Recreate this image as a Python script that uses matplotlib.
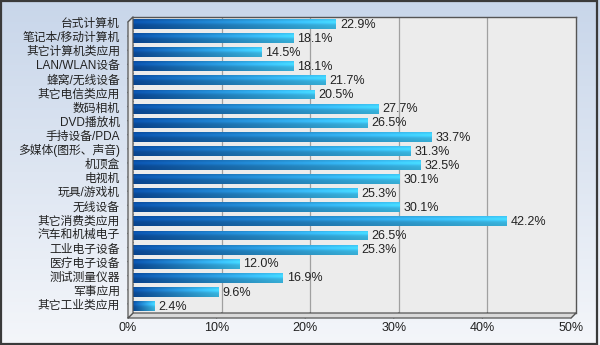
import numpy as np
import matplotlib.pyplot as plt
import matplotlib.transforms as mtransforms
from matplotlib.patches import Rectangle, Polygon
from matplotlib.colors import to_rgb

plt.rcParams['font.family'] = ['Liberation Sans', 'Noto Sans CJK SC', 'DejaVu Sans']

categories = ['台式计算机', '笔记本/移动计算机', '其它计算机类应用', 'LAN/WLAN设备',
              '蜂窝/无线设备', '其它电信类应用', '数码相机', 'DVD播放机',
              '手持设备/PDA', '多媒体(图形、声音)', '机顶盒', '电视机',
              '玩具/游戏机', '无线设备', '其它消费类应用', '汽车和机械电子',
              '工业电子设备', '医疗电子设备', '测试测量仪器', '军事应用',
              '其它工业类应用']
values = [22.9, 18.1, 14.5, 18.1, 21.7, 20.5, 27.7, 26.5, 33.7, 31.3, 32.5,
          30.1, 25.3, 30.1, 42.2, 26.5, 25.3, 12.0, 16.9, 9.6, 2.4]
xticks = [0, 10, 20, 30, 40, 50]

W, H = 600, 345
fig = plt.figure(figsize=(W / 100, H / 100), dpi=100)

# background: light blue at the top fading to near white
bg = fig.add_axes([0, 0, 1, 1], zorder=-10)
top = np.array(to_rgb('#c8d6ea'))
bot = np.array(to_rgb('#f4f6fa'))
t = np.linspace(0, 1, 256)[:, None]
grad = top[None, None, :] * (1 - t[..., None]) + bot[None, None, :] * t[..., None]
bg.imshow(np.repeat(grad, 2, axis=1), aspect='auto', extent=(0, 1, 0, 1))
bg.set_xlim(0, 1)
bg.set_ylim(0, 1)
bg.axis('off')
bg.add_patch(Rectangle((0.002, 0.003), 0.993, 0.994, transform=bg.transAxes,
                       fill=False, ec='#3a3a3a', lw=1.6))

x0, x1 = 133, 576
y_top, y_bot = 17, 313
ax = fig.add_axes([x0 / W, 1 - y_bot / H, (x1 - x0) / W, (y_bot - y_top) / H])
ax.set_facecolor('#ececec')
n = len(categories)
ypos = np.arange(n)
ax.set_xlim(0, 50)
ax.set_ylim(n - 0.5, -0.5)
for s in ['left', 'bottom']:
    ax.spines[s].set_visible(False)
for s in ['top', 'right']:
    ax.spines[s].set_color('#555555')
    ax.spines[s].set_linewidth(1.0)
ax.set_xticks([])
ax.set_yticks([])

for xv in xticks[1:-1]:
    ax.axvline(xv, color='#a0a0a0', lw=0.9, zorder=1)

# offset used for the front edges of the pseudo-3D box
dx, dy = -5, -5
base = ax.transData
to_fig = fig.transFigure.inverted()

# floor
pts_back = base.transform([(0, n - 0.5), (50, n - 0.5)])
pts_front = pts_back + np.array([dx, dy])
poly = np.vstack([pts_back, pts_front[::-1]])
fig.patches.append(Polygon(to_fig.transform(poly), closed=True,
                           transform=fig.transFigure, fc='#d9d9d9', ec='#555555',
                           lw=0.9, zorder=3))
# left wall
lb = base.transform([(0, -0.5), (0, n - 0.5)])
lf = lb + np.array([dx, dy])
wall = np.vstack([lb, lf[::-1]])
fig.patches.append(Polygon(to_fig.transform(wall), closed=True,
                           transform=fig.transFigure, fc='#e4e4e4', ec='#555555',
                           lw=0.9, zorder=3))
for k in range(n + 1):
    yb = base.transform((0, k - 0.5))
    seg = np.array([yb, yb + np.array([dx, dy])])
    fig.lines.append(plt.Line2D(*to_fig.transform(seg).T,
                                transform=fig.transFigure, color='#555555', lw=0.8))
for xv in xticks:
    xb = base.transform((xv, n - 0.5))
    seg = np.array([xb, xb + np.array([dx, dy])])
    fig.lines.append(plt.Line2D(*to_fig.transform(seg).T,
                                transform=fig.transFigure, color='#555555', lw=0.8))

# gradient bars
dark = np.array(to_rgb('#0a4c9e'))
light = np.array(to_rgb('#3ec3f0'))
hx = np.linspace(0, 1, 200)
row = dark[None, :] * (1 - hx[:, None]) + light[None, :] * hx[:, None]
vy = np.linspace(0, 1, 20)
shade = 1.0 + 0.18 * np.exp(-((vy - 0.3) / 0.2) ** 2) - 0.12 * vy
img = np.clip(row[None, :, :] * shade[:, None, None], 0, 1)

bh = 0.7
bars = ax.barh(ypos, values, height=bh, color='none', zorder=4)
for b, v, yy in zip(bars, values, ypos):
    im = ax.imshow(img, aspect='auto', extent=(0, v, yy + bh / 2, yy - bh / 2),
                   zorder=4, interpolation='bilinear')
    im.set_clip_path(b)
    ax.text(v + 0.45, yy + 0.05, f'{v:.1f}%', va='center', ha='left',
            fontsize=9, color='#222222', zorder=5)

ax.set_xlim(0, 50)
ax.set_ylim(n - 0.5, -0.5)

# category labels sit left of the wall, tick labels below the floor
left_tr = mtransforms.offset_copy(base, fig=fig, x=-13, y=0, units='dots')
for c, yy in zip(categories, ypos):
    ax.text(0, yy, c, transform=left_tr, ha='right', va='center',
            fontsize=8.5, color='#222222')
bot_tr = mtransforms.offset_copy(base, fig=fig, x=dx, y=dy - 10, units='dots')
for xv in xticks:
    ax.text(xv, n - 0.5, f'{xv}%', transform=bot_tr, ha='center', va='center',
            fontsize=9, color='#222222')

fig.savefig('out.png', dpi=100)
